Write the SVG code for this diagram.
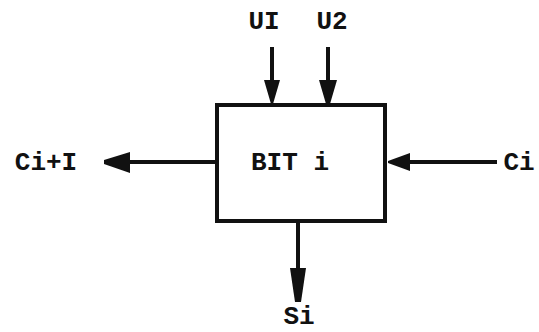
<svg xmlns="http://www.w3.org/2000/svg" width="539" height="332" viewBox="0 0 539 332">
<style>
.lbl{font-family:"Liberation Mono","Courier New",monospace;font-weight:bold;font-size:26px;fill:#111}
.box{fill:#fff;stroke:#111;stroke-width:4}
.ln{stroke:#111;stroke-width:4;fill:none}
.hd{fill:#111;stroke:none}
</style>
<rect width="539" height="332" fill="#fff"/>
<g id="bit">
<rect class="box" x="217" y="105" width="168" height="116"/>
<text class="lbl" x="290" y="170" text-anchor="middle">BIT i</text>
</g>
<g id="u1"><text class="lbl" x="264" y="29" text-anchor="middle">UI</text></g>
<g id="u2"><text class="lbl" x="332" y="29" text-anchor="middle">U2</text></g>
<g id="cout"><text class="lbl" x="46" y="170" text-anchor="middle">Ci+I</text></g>
<g id="cin"><text class="lbl" x="519" y="170" text-anchor="middle">Ci</text></g>
<g id="si"><text class="lbl" x="299" y="324" text-anchor="middle">Si</text></g>
<g id="connectors">
<line class="ln" x1="272" y1="47" x2="272" y2="82"/>
<polygon class="hd" points="264,80 280,80 273,104 271,104"/>
<line class="ln" x1="328" y1="47" x2="328" y2="82"/>
<polygon class="hd" points="319,80 337,80 330,104 326,104"/>
<line class="ln" x1="217" y1="162" x2="128" y2="162"/>
<polygon class="hd" points="130,152 130,173 104,164 104,160"/>
<line class="ln" x1="497" y1="162" x2="408" y2="162"/>
<polygon class="hd" points="410,153 410,171 388,163 388,161"/>
<line class="ln" x1="298" y1="221" x2="298" y2="272"/>
<polygon class="hd" points="290,268 306,268 301,302 295,302"/>
</g>
</svg>
